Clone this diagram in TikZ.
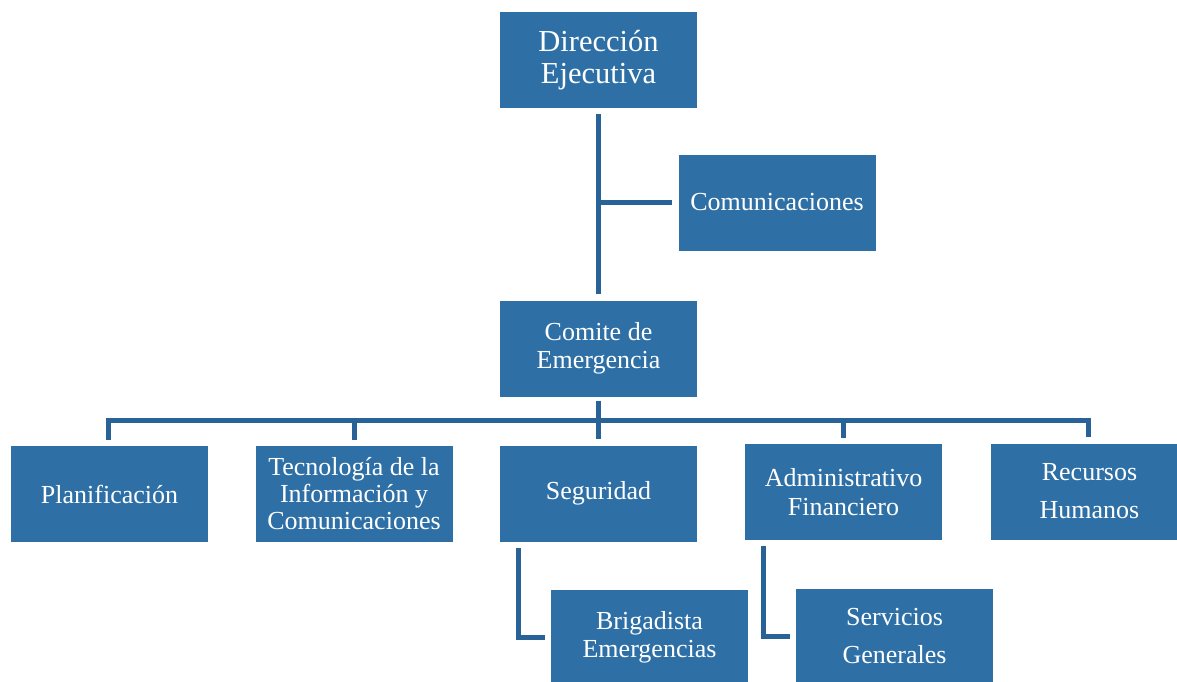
\documentclass[tikz,border=0pt]{standalone}
\usepackage{fontspec}
\setmainfont{Liberation Serif}
\definecolor{boxblue}{RGB}{46,112,166}
\definecolor{lineblue}{RGB}{40,98,150}
\begin{document}
\begin{tikzpicture}[x=1pt,y=-1pt,
  unit/.style={fill=boxblue, draw=none, text=white, minimum width=197pt, minimum height=96pt,
    align=center, inner sep=1pt, font=\fontsize{26}{28.5}\selectfont},
  wideunit/.style={unit, font=\fontsize{26}{38}\selectfont},
  topunit/.style={unit, font=\fontsize{30.5}{32}\selectfont},
  link/.style={draw=lineblue, line width=5pt}]
\clip (0,0) rectangle (1177,682);
\fill[white] (0,0) rectangle (1177,682);
\node[topunit] (dir) at (598.5,60) {Dirección\\Ejecutiva};
\node[unit] (com) at (777,202.5) {Comunicaciones};
\node[unit] (cem) at (598.5,348.5) {Comite de\\Emergencia};
\node[unit] (pla) at (109.5,494) {Planificación};
\node[unit, font=\fontsize{26}{27}\selectfont] (tec) at (354,494) {Tecnología de la\\Información y\\Comunicaciones};
\node[unit] (seg) at (598.5,493.5) {Seguridad};
\node[unit] (adm) at (843.5,492) {Administrativo\\Financiero};
\node[wideunit] (rrh) at (1089.5,491.5) {Recursos\\Humanos};
\node[unit] (bri) at (649.5,637.5) {Brigadista\\Emergencias};
\node[wideunit] (ser) at (894.5,636.5) {Servicios\\Generales};
% connectors
\coordinate (bus) at (598.5,420);
\draw[link] ([yshift=-6pt]dir.south) -- ([yshift=6pt]cem.north);
\draw[link] (dir.south |- com.west) -- ([xshift=-6pt]com.west);
\draw[link] ([yshift=-4pt]cem.south) -- (bus);
\draw[link] ([xshift=-1.5pt,yshift=6pt]pla.north) |- (bus) -| ([xshift=-1.5pt,yshift=6pt]rrh.north);
\draw[link] (bus -| tec.north) -- ([yshift=6pt]tec.north);
\draw[link] (bus) -- ([yshift=6pt]seg.north);
\draw[link] (bus -| adm.north) -- ([yshift=6pt]adm.north);
\draw[link] ([xshift=-80.5pt,yshift=-6pt]seg.south) |- ([xshift=-6pt]bri.west);
\draw[link] ([xshift=-80.5pt,yshift=-6pt]adm.south) |- ([xshift=-6pt]ser.west);
\end{tikzpicture}
\end{document}
